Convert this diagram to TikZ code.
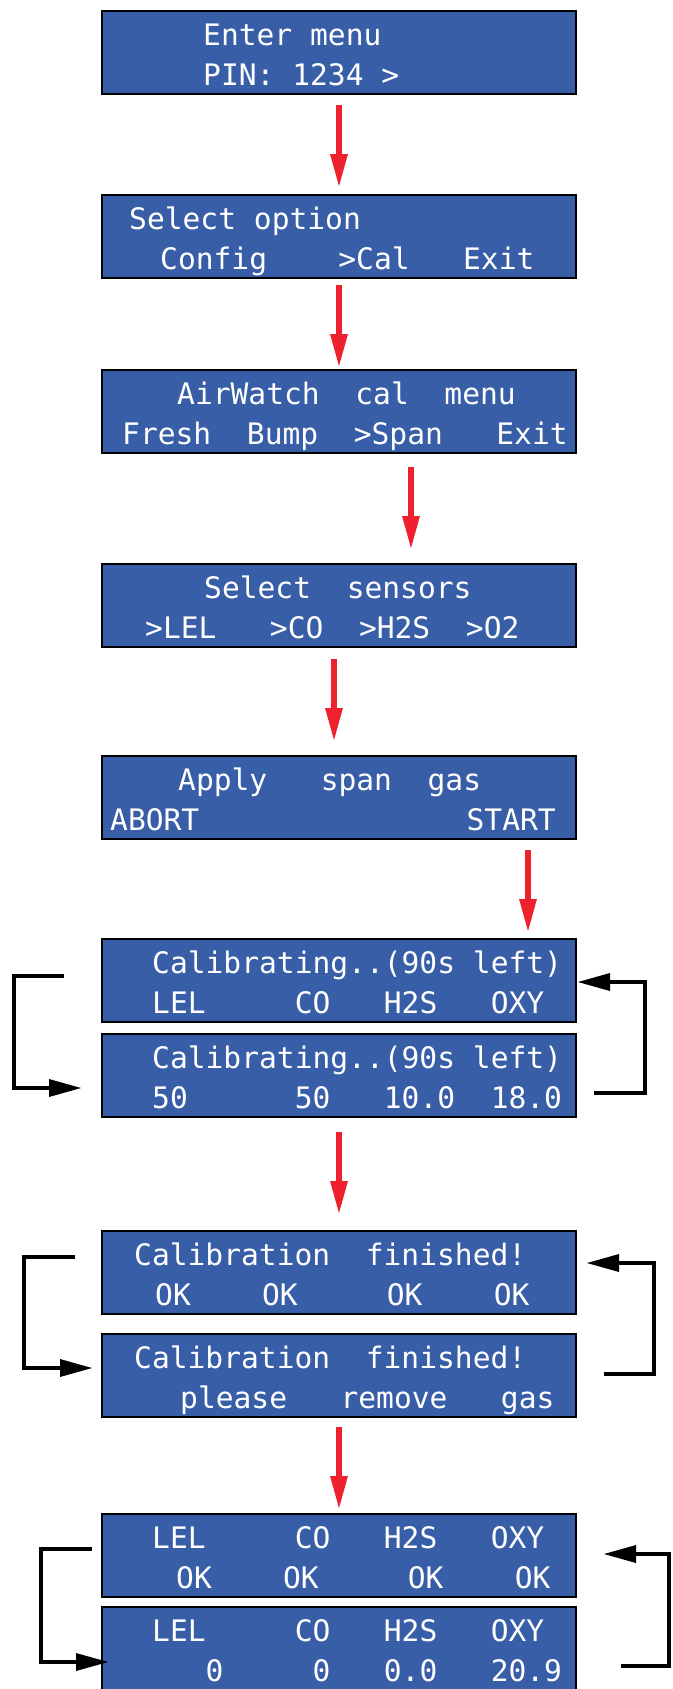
\documentclass[tikz,border=0pt]{standalone}
\usepackage{fontspec}
\usepackage{xcolor}
\usepackage{tikz}
\usetikzlibrary{calc,positioning,arrows.meta}
\newfontfamily\lcdfont{DejaVu Sans Mono}
\definecolor{lcdblue}{RGB}{57,94,168}
\definecolor{arrowred}{RGB}{237,34,46}

\begin{document}
\begin{tikzpicture}[x=1pt, y=-1pt, >={Triangle[length=32pt, width=18pt, line width=0pt]},
    lcd/.style={draw=black, line width=1.5pt, fill=lcdblue, minimum width=474pt, minimum height=83pt, inner sep=0pt, outer sep=0pt},
    lcdt/.style={anchor=base west, inner sep=0pt, text=white, font=\lcdfont\fontsize{29.6}{32}\selectfont\frenchspacing},
    arr/.style={->, line width=5.5pt, draw=arrowred},
    back/.style={->, line width=4pt, draw=black}]
    \newcommand{\LcdLine}[5]{\node[lcdt] (#1) at ($(#2.north west) + (#3, #4)$) {#5};}

    \useasboundingbox (0,0) rectangle (672,1689);

    \node[lcd] (b1) at (339,52.5) {};
    \node[lcd, below = 101pt of b1] (b2) {};
    \node[lcd, below = 92pt of b2] (b3) {};
    \node[lcd, below = 111pt of b3] (b4) {};
    \node[lcd, below = 109pt of b4] (b5) {};
    \node[lcd, below = 100pt of b5] (b6a) {};
    \node[lcd, below = 12pt of b6a] (b6b) {};
    \node[lcd, below = 114pt of b6b] (b7a) {};
    \node[lcd, below = 20pt of b7a] (b7b) {};
    \node[lcd, below = 97pt of b7b] (b8a) {};
    \node[lcd, below = 10pt of b8a] (b8b) {};

    \LcdLine{t1a}{b1}{101}{34}{Enter~menu}
    \LcdLine{t1b}{b1}{101}{74}{PIN:~1234~>}
    \LcdLine{t2a}{b2}{27}{34}{Select~option}
    \LcdLine{t2b}{b2}{58}{74}{Config~~~~>Cal~~~Exit}
    \LcdLine{t3a}{b3}{75}{34}{AirWatch~~cal~~menu}
    \LcdLine{t3b}{b3}{20}{74}{Fresh~~Bump~~>Span~~~Exit}
    \LcdLine{t4a}{b4}{102}{34}{Select~~sensors}
    \LcdLine{t4b}{b4}{43}{74}{>LEL~~~>CO~~>H2S~~>O2}
    \LcdLine{t5a}{b5}{76}{34}{Apply~~~span~~gas}
    \LcdLine{t5b}{b5}{8}{74}{ABORT~~~~~~~~~~~~~~~START}
    \LcdLine{t6a}{b6a}{50}{34}{Calibrating..(90s~left)}
    \LcdLine{t6b}{b6a}{50}{74}{LEL~~~~~CO~~~H2S~~~OXY}
    \LcdLine{t6c}{b6b}{50}{34}{Calibrating..(90s~left)}
    \LcdLine{t6d}{b6b}{50}{74}{50~~~~~~50~~~10.0~~18.0}
    \LcdLine{t7a}{b7a}{32}{34}{Calibration~~finished!}
    \LcdLine{t7b}{b7a}{53}{74}{OK~~~~OK~~~~~OK~~~~OK}
    \LcdLine{t7c}{b7b}{32}{34}{Calibration~~finished!}
    \LcdLine{t7d}{b7b}{78}{74}{please~~~remove~~~gas}
    \LcdLine{t8a}{b8a}{50}{34}{LEL~~~~~CO~~~H2S~~~OXY}
    \LcdLine{t8b}{b8a}{74}{74}{OK~~~~OK~~~~~OK~~~~OK}
    \LcdLine{t8c}{b8b}{50}{34}{LEL~~~~~CO~~~H2S~~~OXY}
    \LcdLine{t8d}{b8b}{50}{74}{~~~0~~~~~0~~~0.0~~~20.9}

    % red arrows between the screens
    \draw[arr, shorten <=11pt, shorten >=9pt] (b1) -- (b2);
    \draw[arr, shorten <=7pt, shorten >=4pt] (b2) -- (b3);
    \draw[arr, shorten <=14pt, shorten >=16pt] ([xshift=72pt]b3.south) -- ([xshift=72pt]b4.north);
    \draw[arr, shorten <=12pt, shorten >=16pt] ([xshift=-5pt]b4.south) -- ([xshift=-5pt]b5.north);
    \draw[arr, shorten <=11pt, shorten >=8pt] ([xshift=189pt]b5.south) -- ([xshift=189pt]b6a.north);
    \draw[arr, shorten <=15pt, shorten >=18pt] (b6b) -- (b7a);
    \draw[arr, shorten <=10pt, shorten >=6pt] (b7b) -- (b8a);

    % black loops between the two alternating screens
    \coordinate (l6s) at (64,976);   \coordinate (l6c) at (14,1088);  \coordinate (l6e) at (81,1088);
    \coordinate (r6s) at (594,1093); \coordinate (r6c) at (645,982);  \coordinate (r6e) at (578,982);
    \coordinate (l7s) at (75,1257);  \coordinate (l7c) at (24,1368);  \coordinate (l7e) at (92,1368);
    \coordinate (r7s) at (604,1374); \coordinate (r7c) at (654,1263); \coordinate (r7e) at (587,1263);
    \coordinate (l8s) at (92,1549);  \coordinate (l8c) at (41,1662);  \coordinate (l8e) at (108,1662);
    \coordinate (r8s) at (621,1666); \coordinate (r8c) at (669,1554); \coordinate (r8e) at (604,1554);

    \draw[back] (l6s) -| (l6c) -- (l6e);
    \draw[back] (r6s) -| (r6c) -- (r6e);
    \draw[back] (l7s) -| (l7c) -- (l7e);
    \draw[back] (r7s) -| (r7c) -- (r7e);
    \draw[back] (l8s) -| (l8c) -- (l8e);
    \draw[back] (r8s) -| (r8c) -- (r8e);
\end{tikzpicture}
\end{document}
